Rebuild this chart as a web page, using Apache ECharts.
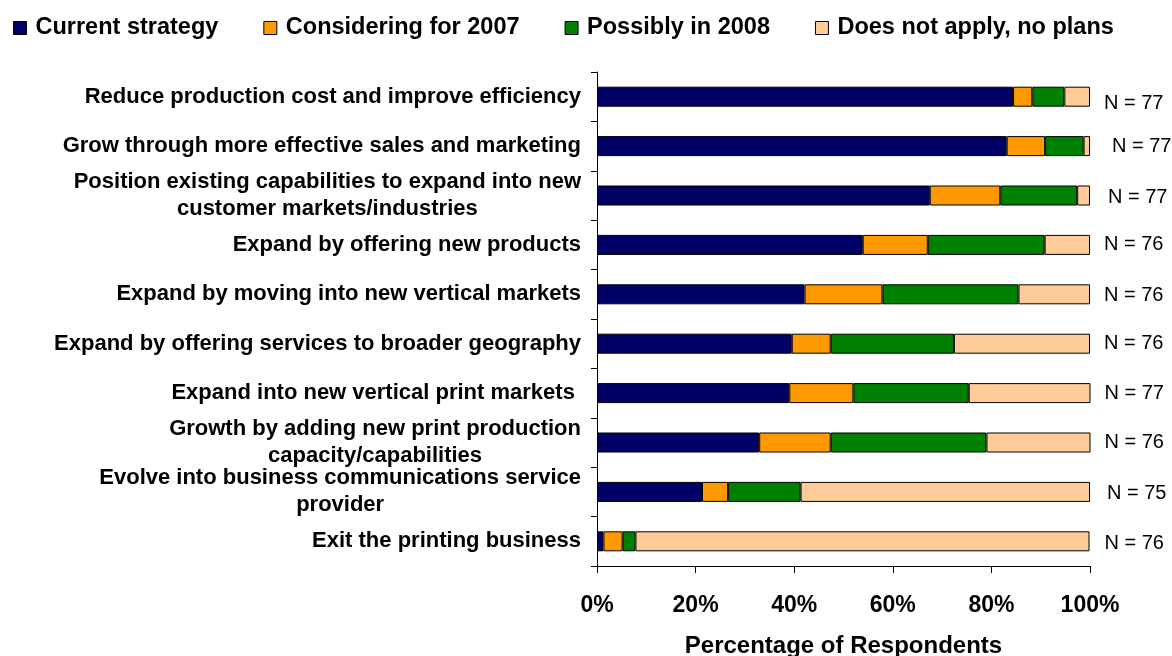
<!DOCTYPE html>
<html>
<head>
<meta charset="utf-8">
<title>Growth strategies</title>
<script src="https://cdn.jsdelivr.net/npm/echarts@6/dist/echarts.min.js"></script>
<style>
  html, body { margin: 0; padding: 0; background: #fff; }
  #chart { width: 1172px; height: 656px; }
</style>
</head>
<body>
<div id="chart"></div>
<script>
// Strategy statements, top to bottom
const categories = [
  'Reduce production cost and improve efficiency',
  'Grow through more effective sales and marketing',
  'Position existing capabilities to expand into new\ncustomer markets/industries',
  'Expand by offering new products',
  'Expand by moving into new vertical markets',
  'Expand by offering services to broader geography',
  'Expand into new vertical print markets ',
  'Growth by adding new print production\ncapacity/capabilities',
  'Evolve into business communications service\nprovider',
  'Exit the printing business'
];

// Share of respondents (%) per answer
const currentStrategy   = [84.4, 83.1, 67.5, 53.9, 42.1, 39.5, 39.0, 32.9, 21.3, 1.3];
const considering2007   = [3.9, 7.8, 14.3, 13.2, 15.8, 7.9, 13.0, 14.5, 5.3, 3.9];
const possibly2008      = [6.5, 7.8, 15.6, 23.7, 27.6, 25.0, 23.4, 31.6, 14.7, 2.6];
const doesNotApply      = [5.2, 1.3, 2.6, 9.2, 14.5, 27.6, 24.7, 21.1, 58.7, 92.1];

// Respondents per statement
const respondents = [77, 77, 77, 76, 76, 76, 77, 76, 75, 76];

// Axis tick labels
const xTicks = ['0%', '20%', '40%', '60%', '80%', '100%'];

// Small nudges for the "N =" notes
const noteShift = [[0, 7], [8, 0], [4, 2], [0, 0], [0, 1], [0, 0], [0, 0], [0, 0], [3, 2], [1, 2]];

const seriesNames = ['Current strategy', 'Considering for 2007', 'Possibly in 2008', 'Does not apply, no plans'];
const seriesColors = ['#000066', '#FF9900', '#008000', '#FFCC99'];
const seriesValues = [currentStrategy, considering2007, possibly2008, doesNotApply];

const FONT = '"Liberation Sans", Arial, sans-serif';

const series = seriesValues.map((vals, i) => {
  const s = {
    name: seriesNames[i],
    type: 'bar',
    stack: 'total',
    barWidth: 20,
    itemStyle: { color: seriesColors[i], borderColor: '#000', borderWidth: 1 },
    emphasis: { disabled: true },
    data: vals.slice()
  };
  if (i === seriesValues.length - 1) {
    // Sample size noted to the right of each bar
    s.data = vals.map((v, k) => ({ value: v, label: { offset: noteShift[k] } }));
    s.label = {
      show: true,
      position: 'right',
      distance: 14,
      color: '#000',
      fontFamily: FONT,
      fontSize: 20,
      formatter: p => 'N = ' + respondents[p.dataIndex]
    };
  }
  return s;
});

const chart = echarts.init(document.getElementById('chart'), null, { renderer: 'canvas' });

chart.setOption({
  animation: false,
  backgroundColor: '#fff',
  legend: {
    data: seriesNames,
    left: 8,
    top: 11,
    itemWidth: 13,
    itemHeight: 13,
    itemGap: 45,
    icon: 'rect',
    itemStyle: { borderColor: '#000', borderWidth: 1 },
    textStyle: {
      fontFamily: FONT, fontSize: 23.5, fontWeight: 'bold', color: '#000',
      padding: [0, 0, 0, 4]
    }
  },
  grid: { left: 597, right: 82, top: 72, bottom: 90, containLabel: false, outerBoundsMode: 'none' },
  xAxis: {
    type: 'value',
    min: 0,
    max: 100,
    interval: 20,
    splitLine: { show: false },
    axisLine: { show: true, lineStyle: { color: '#000', width: 1 } },
    axisTick: { show: true, length: 7, lineStyle: { color: '#000' } },
    axisLabel: {
      margin: 28,
      color: '#000',
      fontFamily: FONT,
      fontSize: 23,
      fontWeight: 'bold',
      formatter: v => xTicks[Math.round(v / 20)]
    },
    name: 'Percentage of Respondents',
    nameLocation: 'middle',
    nameGap: 68,
    nameTextStyle: { color: '#000', fontFamily: FONT, fontSize: 24, fontWeight: 'bold' }
  },
  yAxis: {
    type: 'category',
    inverse: true,
    data: categories,
    axisLine: { show: true, lineStyle: { color: '#000', width: 1 } },
    axisTick: { show: true, length: 6, lineStyle: { color: '#000' } },
    axisLabel: {
      margin: 16,
      align: 'right',
      color: '#000',
      formatter: v => v.split('\n').map(line => '{c|' + line + '}').join('\n'),
      rich: {
        c: {
          align: 'center',
          fontFamily: FONT,
          fontSize: 22,
          fontWeight: 'bold',
          color: '#000',
          lineHeight: 27
        }
      }
    }
  },
  series: series
});
</script>
</body>
</html>
